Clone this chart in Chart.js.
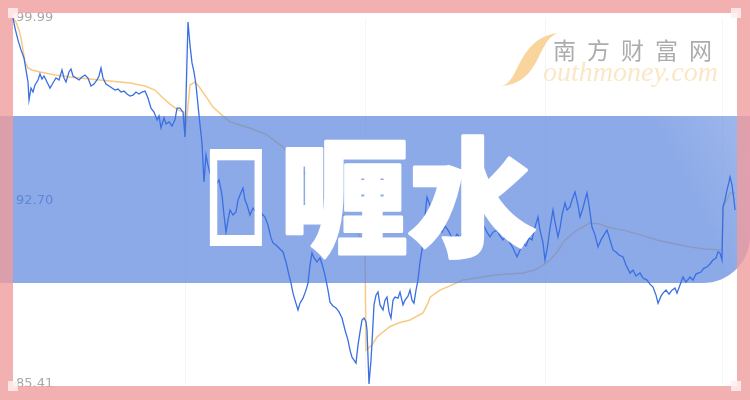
<!DOCTYPE html>
<html>
<head>
<meta charset="utf-8">
<script src="https://cdn.jsdelivr.net/npm/chart.js@4.4.1/dist/chart.umd.min.js"></script>
<style>
  html, body { margin: 0; padding: 0; background: #fff; }
  #wrap { width: 750px; height: 400px; }
</style>
</head>
<body>
<div id="wrap"><canvas id="chart"></canvas></div>
<script>
// Title (first character has no glyph and shows as an empty box) and axis labels
const titleMissing = '\uE000';
const titleText = '喱水';
const yTicks = [85.41, 92.70, 99.99];
// Bar index where each trading day starts
const dayStarts = [172, 352, 532, 709];

// Price line (bar index, price)
const priceX = [
  0, 2, 5, 8, 11, 13, 15, 16, 18, 20, 22, 25, 27, 29, 31, 34, 37, 40, 43, 46, 49, 51, 53, 56, 58, 60, 63, 66, 69, 72,
  75, 78, 81, 84, 86, 88, 90, 93, 96, 99, 102, 105, 108, 111, 114, 117, 120, 123, 126, 129, 132, 135, 138, 141, 144, 146, 148, 151, 153, 156,
  159, 162, 164, 167, 170, 172,
  174, 175, 177, 179, 181, 183, 185, 187, 189, 191, 193, 195, 197, 200, 203, 206, 209, 211, 213, 215, 217, 220, 223, 225, 227, 230, 232, 234,
  237, 240, 243, 246, 249, 252, 255, 258, 260, 263, 266, 270, 273, 276, 278, 280, 282, 285, 287, 290, 293, 295, 297, 299, 301, 304, 307, 309,
  312, 315, 317, 320, 323, 326, 329, 332, 335, 337, 339, 341, 343, 345, 347, 349, 351,
  353, 354, 356, 358, 359, 361, 363, 365, 367, 370, 372, 374, 376, 378, 380, 382, 385, 387, 390, 392, 395, 397, 399, 401, 403, 405, 407, 409,
  411, 414, 417, 420, 423, 426, 429, 432, 435, 438, 441, 444, 447, 450, 453, 456, 459, 462, 465, 468, 471, 474, 477, 480, 484, 487, 490, 493,
  497, 500, 504, 507, 510, 513, 516, 519, 522, 525, 527, 530, 532,
  534, 535, 537, 540, 542, 545, 547, 549, 552, 554, 557, 559, 562, 565, 567, 570, 572, 574, 576, 579, 582, 585, 588, 591, 594, 597, 600, 603,
  606, 610, 613, 617, 620, 623, 627, 630, 634, 637, 640, 643, 645, 648, 650, 653, 656, 659, 662, 664, 667, 670, 673, 677, 680, 683, 685, 688,
  691, 694, 697, 700, 703, 705, 707, 709,
  710, 712, 714, 716, 717, 719, 720, 721, 722
];
const priceY = [
  99.99, 99.59, 99.11, 98.72, 98.40, 97.92, 97.44, 96.72, 97.20, 97.04, 97.32, 97.52, 97.76, 97.56, 97.68, 97.44, 97.20, 97.40, 97.60, 97.52, 97.92, 97.60, 97.44, 97.84, 97.96, 97.68, 97.60, 97.52, 97.64, 97.72,
  97.60, 97.28, 97.36, 97.52, 97.68, 98.00, 97.60, 97.36, 97.28, 97.20, 97.12, 97.16, 97.04, 97.08, 96.96, 96.88, 96.92, 97.04, 96.96, 97.04, 97.08, 96.80, 96.40, 96.24, 95.93, 96.09, 95.61, 96.01, 95.77, 95.85,
  95.69, 95.93, 96.40, 96.40, 96.24, 95.25,
  98.32, 99.83, 98.91, 98.20, 97.84, 97.32, 96.52, 95.73, 95.01, 93.46, 94.53, 94.13, 93.81, 93.62, 93.34, 93.54, 92.94, 92.14, 91.46, 91.94, 92.34, 92.14, 92.26, 92.74, 92.94, 93.22, 92.74, 92.54,
  92.14, 92.42, 92.26, 92.50, 92.18, 92.06, 91.74, 91.23, 91.03, 90.95, 90.83, 90.67, 90.27, 89.75, 89.43, 89.03, 88.75, 88.36, 88.63, 88.83, 89.15, 89.43, 90.15, 90.63, 90.43, 90.27, 90.43, 90.19,
  89.75, 89.15, 88.67, 88.52, 88.44, 88.28, 88.04, 87.56, 87.16, 86.76, 86.48, 86.36, 86.24, 86.96, 87.48, 87.96, 88.04,
  87.88, 87.56, 85.41, 86.36, 87.04, 88.56, 88.95, 89.07, 88.56, 88.36, 88.75, 88.87, 88.28, 88.04, 88.75, 88.87, 88.83, 89.07, 88.56, 88.75, 88.91, 89.15, 88.75, 88.63, 89.15, 89.55, 90.27, 90.75,
  91.74, 92.86, 92.54, 92.14, 91.86, 91.62, 91.46, 91.70, 91.54, 91.31, 91.15, 91.38, 91.23, 91.46, 91.31, 91.54, 91.62, 91.78, 91.54, 91.38, 91.70, 91.46, 91.27, 91.46, 91.54, 91.31, 91.15, 91.31,
  91.03, 90.83, 90.47, 90.75, 91.03, 90.91, 91.23, 91.15, 91.66, 92.06, 91.54, 91.03, 90.35,
  90.75, 91.03, 91.62, 92.34, 91.86, 91.27, 91.62, 92.14, 92.62, 92.34, 92.46, 92.74, 93.06, 92.54, 92.06, 92.42, 92.74, 93.02, 92.54, 91.66, 91.35, 90.87, 91.15, 91.35, 91.54, 91.15, 90.75, 90.67,
  90.55, 90.47, 90.15, 89.83, 89.95, 89.71, 89.83, 89.63, 89.55, 89.39, 89.27, 88.95, 88.63, 88.91, 89.03, 89.15, 88.99, 89.15, 89.23, 89.03, 89.35, 89.67, 89.47, 89.67, 89.55, 89.79, 89.83, 89.87,
  90.03, 90.07, 90.19, 90.35, 90.43, 90.67, 90.63, 90.35,
  92.46, 92.74, 93.14, 93.46, 93.66, 93.34, 93.02, 92.74, 92.34
];

// Average price line (bar index, price)
const avgX = [
  0, 3, 6, 8, 10, 12, 15, 19, 27, 42, 57, 77, 97, 117, 132, 142, 149, 157, 165, 171,
  172, 177, 182, 187, 194, 200, 209, 217, 227, 237, 254, 270, 287, 304, 320, 337, 347, 352,
  353, 359, 364, 370, 377, 387, 397, 410, 415, 417, 427, 434, 450, 470, 482, 497, 510, 522, 532,
  537, 544, 552, 564, 577, 587, 594, 610, 627, 644, 662, 677, 692, 707, 709,
  710, 714, 717, 722
];
const avgY = [
  99.99, 99.83, 99.51, 99.19, 98.72, 98.24, 98.00, 97.92, 97.84, 97.72, 97.64, 97.56, 97.48, 97.40, 97.28, 97.12, 96.84, 96.56, 96.32, 96.24,
  95.25, 97.32, 97.44, 97.20, 96.80, 96.44, 96.12, 95.85, 95.73, 95.61, 95.33, 94.85, 94.05, 93.14, 92.46, 91.94, 91.27, 90.75,
  86.76, 86.96, 87.28, 87.48, 87.70, 87.86, 87.96, 88.24, 88.63, 88.87, 89.15, 89.27, 89.55, 89.67, 89.75, 89.79, 89.83, 89.95, 90.19,
  90.35, 90.67, 91.15, 91.54, 91.82, 91.78, 91.66, 91.54, 91.35, 91.15, 90.99, 90.87, 90.79, 90.75, 90.75,
  92.46, 92.74, 93.02, 93.02
];

// Draws the blue banner and the pink frame after the average line
const overlayPlugin = {
  id: 'overlay',
  afterDatasetDraw(chart, args) {
    if (args.index !== 1) return;
    const c = chart.ctx;
    c.save();
    // banner
    const grad = c.createLinearGradient(420, 283, 750, 116);
    grad.addColorStop(0, 'rgba(91,133,222,0.7)');
    grad.addColorStop(0.75, 'rgba(91,133,222,0.7)');
    grad.addColorStop(1, 'rgba(105,145,226,0.64)');
    c.fillStyle = grad;
    c.beginPath();
    c.moveTo(0, 116);
    c.lineTo(750, 116);
    c.lineTo(750, 236);
    c.arcTo(750, 283, 703, 283, 47);
    c.lineTo(0, 283);
    c.closePath();
    c.fill();
    // frame
    c.fillStyle = 'rgba(239,156,156,0.8)';
    c.fillRect(0, 0, 750, 13);
    c.fillRect(0, 386, 750, 14);
    c.fillRect(0, 13, 13, 373);
    c.fillRect(737, 13, 13, 373);
    c.restore();
  },
  afterDraw(chart) {
    const c = chart.ctx;
    c.save();
    // corner squares
    c.fillStyle = 'rgba(255,238,238,0.85)';
    [[8, 8], [731, 8], [8, 381], [731, 381]].forEach(p => c.fillRect(p[0], p[1], 10, 10));

    // big title
    c.fillStyle = '#ffffff';
    c.strokeStyle = '#ffffff';
    c.lineJoin = 'round';
    c.textBaseline = 'middle';
    c.lineWidth = 3;
    c.font = '900 128px "Noto Sans CJK SC"';
    c.textAlign = 'right';
    c.strokeText(titleText, 536, 197);
    c.fillText(titleText, 536, 197);
    // missing-glyph box
    c.save();
    c.translate(236, 197);
    c.scale(0.68, 1.03);
    c.font = 'bold 128px "Liberation Sans"';
    c.textAlign = 'center';
    c.lineJoin = 'miter';
    c.lineWidth = 6;
    c.strokeText(titleMissing, 0, 9);
    c.fillText(titleMissing, 0, 9);
    c.restore();

    // watermark
    c.fillStyle = 'rgba(248,205,140,0.85)';
    c.beginPath();
    c.moveTo(500, 86);
    c.bezierCurveTo(520, 86, 516, 38, 558, 33);
    c.bezierCurveTo(536, 40, 542, 84, 500, 86);
    c.fill();
    c.textAlign = 'left';
    c.textBaseline = 'alphabetic';
    c.fillStyle = '#acacac';
    c.font = '23px "Noto Sans CJK SC"';
    const wm = ['南', '方', '财', '富', '网'];
    wm.forEach((ch, i) => c.fillText(ch, 553 + i * 34, 59));
    c.fillStyle = 'rgba(250,228,192,0.9)';
    c.font = 'italic 28px "Liberation Serif"';
    c.fillText('outhmoney.com', 543, 81);
    c.restore();
  }
};

const ctx = document.getElementById('chart').getContext('2d');
new Chart(ctx, {
  type: 'line',
  data: {
    datasets: [{
      label: 'Price',
      data: priceX.map((x, i) => ({ x: x, y: priceY[i] })),
      borderColor: '#3a6fe2',
      borderWidth: 1.3,
      pointRadius: 0,
      tension: 0,
      clip: false,
      order: 1
    }, {
      label: 'Average',
      data: avgX.map((x, i) => ({ x: x, y: avgY[i] })),
      borderColor: 'rgba(247,196,118,0.9)',
      borderWidth: 1.5,
      pointRadius: 0,
      tension: 0,
      order: 2
    }]
  },
  options: {
    responsive: true,
    maintainAspectRatio: false,
    animation: false,
    layout: { padding: { left: 13, right: 15, top: 18, bottom: 16 } },
    plugins: { legend: { display: false }, tooltip: { enabled: false } },
    scales: {
      x: {
        type: 'linear',
        min: 0,
        max: 722,
        afterBuildTicks(s) { s.ticks = dayStarts.map(v => ({ value: v })); },
        afterFit(s) { s.height = 0; },
        ticks: { display: false },
        grid: { color: 'rgba(0,0,0,0.035)', drawTicks: false },
        border: { display: false }
      },
      y: {
        min: 85.41,
        max: 99.99,
        z: 1,
        afterBuildTicks(s) { s.ticks = yTicks.map(v => ({ value: v })); },
        afterFit(s) { s.width = 0; },
        grid: { display: false },
        border: { display: false },
        ticks: {
          mirror: true,
          padding: 3,
          font: { family: 'DejaVu Sans', size: 13 },
          color: c => (c.index === 1 ? '#6a86c2' : '#a9a9a9'),
          callback: v => v.toFixed(2)
        }
      }
    }
  },
  plugins: [overlayPlugin]
});
</script>
</body>
</html>
